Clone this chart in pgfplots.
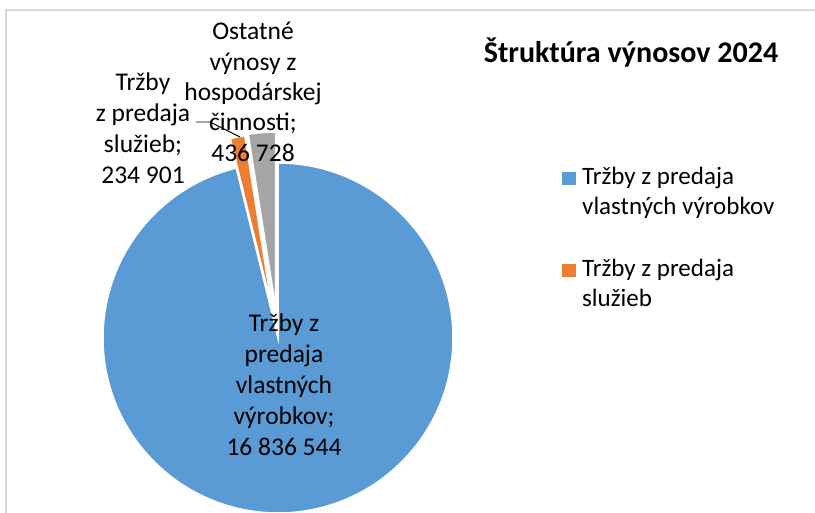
\documentclass[border=0pt]{standalone}
\usepackage{fontspec}
\setmainfont{Carlito}
\usepackage{pgfplots}
\usepackage{pgfplotstable}
\pgfplotsset{compat=1.18}
\definecolor{pieblue}{HTML}{5B9BD5}
\definecolor{pieorange}{HTML}{ED7D31}
\definecolor{piegray}{HTML}{A5A5A5}
\definecolor{frame}{HTML}{D9D9D9}

% value = amount, explode = offset of the slice (px)
\pgfplotstableread{
value explode
16836544 0
234901 30
436728 31
}\piedata

\newcommand\lbl[3]{\node[anchor=base, inner sep=0pt, font=\fontsize{25.5}{30}\selectfont] at (axis cs:#1,#2) {#3};}
\newcommand\lgd[3]{\node[anchor=base west, inner sep=0pt, font=\fontsize{25}{30}\selectfont] at (axis cs:#1,#2) {#3};}

\pgfplotstablegetelem{0}{value}\of\piedata \edef\vA{\pgfplotsretval}
\pgfplotstablegetelem{1}{value}\of\piedata \edef\vB{\pgfplotsretval}
\pgfplotstablegetelem{2}{value}\of\piedata \edef\vC{\pgfplotsretval}
\pgfplotstablegetelem{0}{explode}\of\piedata \edef\eA{\pgfplotsretval}
\pgfplotstablegetelem{1}{explode}\of\piedata \edef\eB{\pgfplotsretval}
\pgfplotstablegetelem{2}{explode}\of\piedata \edef\eC{\pgfplotsretval}
\edef\tot{\fpeval{\vA+\vB+\vC}}
\edef\aA{90}
\edef\aB{\fpeval{round(90-360*\vA/\tot,4)}}
\edef\aC{\fpeval{round(\aB-360*\vB/\tot,4)}}
\edef\aD{\fpeval{round(\aC-360*\vC/\tot,4)}}
\edef\mA{\fpeval{round((\aA+\aB)/2,4)}}
\edef\mB{\fpeval{round((\aB+\aC)/2,4)}}
\edef\mC{\fpeval{round((\aC+\aD)/2,4)}}

\begin{document}%
\begin{tikzpicture}
\begin{axis}[at={(0,0)}, anchor=south west, x=1pt, y=1pt,
  xmin=0, xmax=815, ymin=0, ymax=513, y dir=reverse,
  hide axis, enlargelimits=false, clip=true]
% frame
\draw[frame, line width=1.5pt] (axis cs:6,513) -- (axis cs:6,10) -- (axis cs:815,10);
% slices
\fill[pieblue, draw=white, line width=1.5pt] ([shift={(\mA:\eA pt)}]axis cs:278,338) -- ++(\aA:175pt) arc[start angle=\aA, end angle=\aB, radius=175pt] -- cycle;
\fill[pieorange, draw=white, line width=1.5pt] ([shift={(\mB:\eB pt)}]axis cs:278,338) -- ++(\aB:175pt) arc[start angle=\aB, end angle=\aC, radius=175pt] -- cycle;
\fill[piegray, draw=white, line width=1.5pt] ([shift={(\mC:\eC pt)}]axis cs:278,338) -- ++(\aC:175pt) arc[start angle=\aC, end angle=\aD, radius=175pt] -- cycle;
% leader line
\draw[black, line width=0.9pt] (axis cs:196,122) -- (axis cs:210,122) -- (axis cs:240,137);
% data labels
\lbl{284}{331.5}{Tržby z}
\lbl{284}{362.5}{predaja}
\lbl{284}{393.5}{vlastných}
\lbl{284}{424.5}{výrobkov;}
\lbl{284}{455.5}{16 836 544}
\lbl{143}{91}{Tržby}
\lbl{143}{122}{z predaja}
\lbl{143}{153}{služieb;}
\lbl{143}{184}{234 901}
\lbl{253}{40}{Ostatné}
\lbl{253}{70.5}{výnosy z}
\lbl{253}{100.5}{hospodárskej}
\lbl{253}{131}{činnosti;}
\lbl{253}{161.5}{436 728}
% title
\node[anchor=base, inner sep=0pt, font=\bfseries\fontsize{30}{36}\selectfont] at (axis cs:631,63) {Štruktúra výnosov 2024};
% legend
\fill[pieblue] (axis cs:562,172) rectangle (axis cs:576,185);
\lgd{582}{185}{Tržby z predaja}
\lgd{582}{215}{vlastných výrobkov}
\fill[pieorange] (axis cs:562,264) rectangle (axis cs:576,277);
\lgd{582}{277}{Tržby z predaja}
\lgd{582}{307}{služieb}
\end{axis}
\pgfresetboundingbox
\path[use as bounding box] (current axis.south west) rectangle (current axis.north east);
\end{tikzpicture}%
\end{document}
